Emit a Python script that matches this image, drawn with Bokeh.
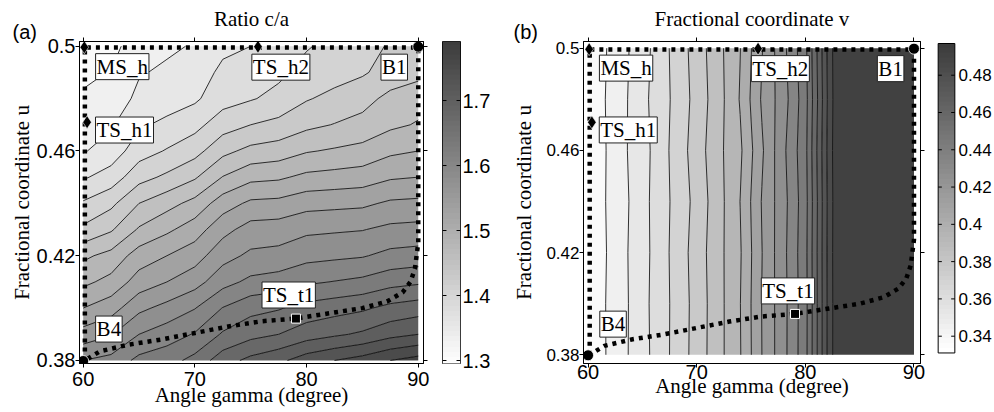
import numpy as np
from bokeh.plotting import figure
from bokeh.layouts import row
from bokeh.models import (Range1d, FixedTicker, LinearAxis, LinearColorMapper,
                          CustomLabelingPolicy)
from bokeh.embed import file_html
from bokeh.resources import INLINE
from bokeh.core.properties import value

# ---------------- data ----------------
# (a) ratio c/a on a (gamma, u) grid, rows from u=0.38 (bottom) to u=0.50 (top)
gamma_ca = [60.0, 62.5, 65.0, 67.5, 70.0, 72.5, 75.0, 77.5, 80.0, 82.5, 85.0, 87.5, 90.0]
u_ca = [0.38, 0.39, 0.40, 0.41, 0.42, 0.43, 0.44, 0.45, 0.46, 0.47, 0.48, 0.49, 0.50]
ca_rows = [
    [1.590, 1.598, 1.622, 1.630, 1.648, 1.679, 1.697, 1.709, 1.728, 1.740, 1.750, 1.765, 1.775],
    [1.550, 1.563, 1.590, 1.603, 1.617, 1.643, 1.657, 1.665, 1.678, 1.686, 1.694, 1.707, 1.715],
    [1.515, 1.529, 1.559, 1.573, 1.589, 1.616, 1.632, 1.638, 1.649, 1.655, 1.661, 1.672, 1.678],
    [1.484, 1.498, 1.526, 1.540, 1.555, 1.581, 1.596, 1.601, 1.611, 1.616, 1.621, 1.631, 1.636],
    [1.460, 1.473, 1.502, 1.515, 1.529, 1.556, 1.570, 1.573, 1.582, 1.585, 1.588, 1.597, 1.600],
    [1.420, 1.437, 1.468, 1.485, 1.503, 1.532, 1.550, 1.552, 1.560, 1.562, 1.564, 1.571, 1.573],
    [1.393, 1.409, 1.440, 1.456, 1.473, 1.503, 1.520, 1.522, 1.531, 1.533, 1.535, 1.544, 1.546],
    [1.362, 1.376, 1.406, 1.420, 1.437, 1.466, 1.483, 1.486, 1.496, 1.499, 1.502, 1.512, 1.515],
    [1.338, 1.351, 1.379, 1.392, 1.406, 1.433, 1.447, 1.452, 1.463, 1.468, 1.473, 1.485, 1.490],
    [1.327, 1.337, 1.361, 1.371, 1.382, 1.404, 1.415, 1.422, 1.434, 1.441, 1.448, 1.460, 1.467],
    [1.318, 1.325, 1.346, 1.353, 1.361, 1.380, 1.388, 1.397, 1.413, 1.422, 1.431, 1.447, 1.456],
    [1.310, 1.316, 1.338, 1.344, 1.351, 1.371, 1.378, 1.385, 1.398, 1.405, 1.412, 1.425, 1.432],
    [1.300, 1.307, 1.329, 1.336, 1.342, 1.359, 1.365, 1.374, 1.388, 1.397, 1.404, 1.418, 1.425],
]

# (b) fractional coordinate v, rows from u=0.38 (bottom) to u=0.50 (top)
gamma_v = [60, 62, 64, 66, 68, 70, 72, 74, 76, 78, 80, 81, 82, 83, 86, 90]
u_v = [0.38, 0.40, 0.42, 0.44, 0.46, 0.48, 0.50]
v_rows = [
    [0.332, 0.3409, 0.3488, 0.3573, 0.3665, 0.3759, 0.3863, 0.3969, 0.4140, 0.4281, 0.4444, 0.4621, 0.4804, 0.4965, 0.4965, 0.4965],
    [0.332, 0.3410, 0.3487, 0.3576, 0.3663, 0.3757, 0.3862, 0.3972, 0.4142, 0.4280, 0.4442, 0.4620, 0.4803, 0.4965, 0.4965, 0.4965],
    [0.332, 0.3406, 0.3490, 0.3572, 0.3668, 0.3762, 0.3865, 0.3966, 0.4138, 0.4284, 0.4446, 0.4622, 0.4805, 0.4965, 0.4965, 0.4965],
    [0.332, 0.3410, 0.3485, 0.3575, 0.3662, 0.3752, 0.3860, 0.3975, 0.4145, 0.4278, 0.4440, 0.4618, 0.4802, 0.4965, 0.4965, 0.4965],
    [0.332, 0.3408, 0.3492, 0.3570, 0.3670, 0.3765, 0.3870, 0.3960, 0.4128, 0.4290, 0.4448, 0.4628, 0.4808, 0.4965, 0.4965, 0.4965],
    [0.332, 0.3412, 0.3490, 0.3578, 0.3660, 0.3755, 0.3858, 0.3980, 0.4150, 0.4270, 0.4440, 0.4615, 0.4800, 0.4965, 0.4965, 0.4965],
    [0.332, 0.3405, 0.3485, 0.3570, 0.3668, 0.3762, 0.3866, 0.3972, 0.4135, 0.4285, 0.4450, 0.4625, 0.4806, 0.4965, 0.4965, 0.4965],
]

# transition path (dotted) through the (gamma, u) plane
path_gamma = [60.15, 60.15, 90.0, 90.0, 89.7, 89.3, 88.6, 87.2, 85.0, 82.0, 79.0, 76.0, 73.0, 70.0, 67.0, 64.0, 61.5, 60.15]
path_u = [0.380, 0.4995, 0.4995, 0.425, 0.415, 0.410, 0.406, 0.4025, 0.400, 0.398, 0.396, 0.395, 0.393, 0.3905, 0.388, 0.386, 0.3835, 0.380]

# special points
diamond_gamma = [60.1, 60.35, 75.65]   # MS_h, TS_h1, TS_h2
diamond_u = [0.4996, 0.471, 0.4998]
circle_gamma = [60.0, 90.0]            # B4, B1
circle_u = [0.3798, 0.4998]
ts_gamma = [79.05]                     # TS_t1
ts_u = [0.396]

label_text = ["MS_h", "TS_h1", "TS_h2", "B1", "TS_t1", "B4"]
label_gamma = [63.5, 63.7, 77.7, 87.85, 78.4, 62.3]
label_u = [0.4922, 0.468, 0.492, 0.492, 0.405, 0.392]

x_ticks = [60, 70, 80, 90]
y_ticks = [0.38, 0.42, 0.46, 0.5]
ca_ticks = [1.3, 1.4, 1.5, 1.6, 1.7]
ca_tick_labels = ["1.3", "1.4", "1.5", "1.6", "1.7"]
v_ticks = [0.34, 0.36, 0.38, 0.40, 0.42, 0.44, 0.46, 0.48]
v_tick_labels = ["0.34", "0.36", "0.38", "0.4", "0.42", "0.44", "0.46", "0.48"]

SERIF = "Liberation Serif"
SANS = "Liberation Sans"

# all figures in the row share the same frame top/bottom
TOP = 41
BOTTOM = 49


def gray(g):
    g = int(round(g))
    return "#%02x%02x%02x" % (g, g, g)


def no_labels():
    return CustomLabelingPolicy(code="""
        for (const i of [...indices])
            indices.unset(i)
        return indices
    """)


def style_axis(ax, label_size="20px"):
    ax.axis_line_color = "black"
    ax.major_tick_line_color = "black"
    ax.minor_tick_line_color = None
    ax.major_tick_in = 0
    ax.major_tick_out = 4
    ax.major_label_text_font = SANS
    ax.major_label_text_font_size = label_size
    ax.major_label_text_color = "black"
    ax.axis_label_text_font = SERIF
    ax.axis_label_text_font_size = "21px"
    ax.axis_label_text_font_style = "normal"
    ax.axis_label_text_color = "black"


def panel(width, mb_lr, xr, yr, gx, gy, Z, levels, title, tag, tag_offset, ylab_size,
          ylab_standoff, xlab_standoff, xtick_standoff):
    p = figure(width=width, height=412, x_range=Range1d(*xr), y_range=Range1d(*yr),
               output_backend="svg", toolbar_location=None,
               min_border_left=mb_lr[0], min_border_right=mb_lr[1],
               min_border_top=TOP, min_border_bottom=BOTTOM,
               x_axis_label="Angle gamma (degree)", y_axis_label="Fractional coordinate u",
               title=tag)
    p.grid.visible = False
    p.outline_line_color = "black"
    p.background_fill_color = "white"
    p.border_fill_color = "white"
    # panel tag "(a)"/"(b)" as the figure title, pushed to the far left
    p.title.align = "left"
    p.title.offset = tag_offset
    p.title.text_font = SANS
    p.title.text_font_size = "20px"
    p.title.text_font_style = "normal"
    p.title.text_color = "black"
    p.title.vertical_align = "bottom"
    p.title.standoff = -78

    nb = len(levels) - 1
    fills = [gray(255 - (k + 0.5) / nb * 195) for k in range(nb)]
    p.contour(x=gx, y=gy, z=Z, levels=levels, fill_color=fills,
              line_color="black", line_width=0.8)

    p.xaxis.ticker = FixedTicker(ticks=x_ticks)
    p.yaxis.ticker = FixedTicker(ticks=y_ticks)
    style_axis(p.xaxis[0])
    style_axis(p.yaxis[0], ylab_size)
    p.yaxis.major_label_overrides = {0.5: "0.5"}
    p.xaxis.major_label_standoff = xtick_standoff
    p.xaxis.axis_label_standoff = xlab_standoff
    p.yaxis.major_label_standoff = 0
    p.yaxis.axis_label_standoff = ylab_standoff

    # top axis: ticks only, carries the panel heading
    top = LinearAxis(ticker=FixedTicker(ticks=x_ticks), major_label_policy=no_labels(),
                     axis_label=title)
    style_axis(top, "1px")
    top.major_label_standoff = 0
    top.axis_label_standoff = 3
    p.add_layout(top, "above")
    right = LinearAxis(ticker=FixedTicker(ticks=y_ticks), major_label_policy=no_labels())
    style_axis(right, "1px")
    right.major_label_standoff = 0
    p.add_layout(right, "right")

    p.line(path_gamma, path_u, line_color="black", line_width=4.5, line_dash="4 5")
    p.scatter(diamond_gamma, diamond_u, marker="diamond", size=13,
              fill_color="black", line_color="white", line_width=0.6)
    p.scatter(circle_gamma, circle_u, marker="circle", size=11,
              fill_color="black", line_color="white", line_width=0.8)
    p.scatter(ts_gamma, ts_u, marker="square", size=9,
              fill_color="black", line_color="white", line_width=1)
    p.text(x=label_gamma, y=label_u, text=label_text, text_font=value(SERIF),
           text_font_size="21px", text_align="center", text_baseline="middle",
           text_color="black", background_fill_color="white",
           border_line_color="#222222", border_line_width=1, padding=1)
    return p


def cbar(width, mb_left, frame_w, xr, yr, lo, hi, ticks, labels, label_size, framed):
    c = figure(width=width, height=412, x_range=Range1d(*xr), y_range=Range1d(*yr),
               output_backend="svg", toolbar_location=None,
               min_border_left=mb_left, min_border_right=width - mb_left - frame_w,
               min_border_top=TOP, min_border_bottom=BOTTOM,
               x_axis_location=None, y_axis_location="right")
    c.grid.visible = False
    c.outline_line_color = "black" if framed else None
    pal = [gray(255 - i / 63 * 195) for i in range(64)]
    mapper = LinearColorMapper(palette=pal, low=lo, high=hi)
    grad = np.linspace(lo, hi, 128).reshape(-1, 1)
    c.image(image=[grad], x=0, y=lo, dw=1, dh=hi - lo, color_mapper=mapper)
    if not framed:
        c.quad(left=[0], right=[1], bottom=[lo], top=[hi], fill_color=None,
               line_color="black", line_width=1)
    # inward tick marks on both edges of the bar
    n = len(ticks)
    c.segment(x0=[0.0] * n, y0=ticks, x1=[0.22] * n, y1=ticks, line_color="black", line_width=1)
    c.segment(x0=[0.78] * n, y0=ticks, x1=[1.0] * n, y1=ticks, line_color="black", line_width=1)
    ax = c.yaxis[0]
    style_axis(ax, label_size)
    ax.axis_line_color = None
    ax.ticker = FixedTicker(ticks=ticks)
    ax.major_label_overrides = {t: s for t, s in zip(ticks, labels)}
    ax.major_tick_in = 0
    ax.major_tick_out = 0
    ax.major_label_standoff = 2
    return c


levels_ca = list(np.linspace(1.29, 1.79, 21))
levels_v = list(np.linspace(0.331, 0.497, 21))

pA = panel(432, (79, 6), (59.67, 90.47), (0.37885, 0.5018),
           gamma_ca, u_ca, np.array(ca_rows), levels_ca, "Ratio c/a", "(a)", -67,
           "20px", 0, -6, 4)
cA = cbar(73, 10, 18, (0, 1), (1.2954, 1.7908), 1.29, 1.794, ca_ticks, ca_tick_labels,
          "20px", True)
pB = panel(424, (78, 6), (59.58, 90.6), (0.37659, 0.50262),
           gamma_v, u_v, np.array(v_rows), levels_v, "Fractional coordinate v", "(b)", -70,
           "17px", 7, -8, -3)
cB = cbar(65, 7, 21, (-0.1, 1.1), (0.32535, 0.49808), 0.331, 0.497, v_ticks, v_tick_labels,
          "17px", False)

layout = row(pA, cA, pB, cB)
open("out.html", "w").write(file_html(layout, INLINE))
